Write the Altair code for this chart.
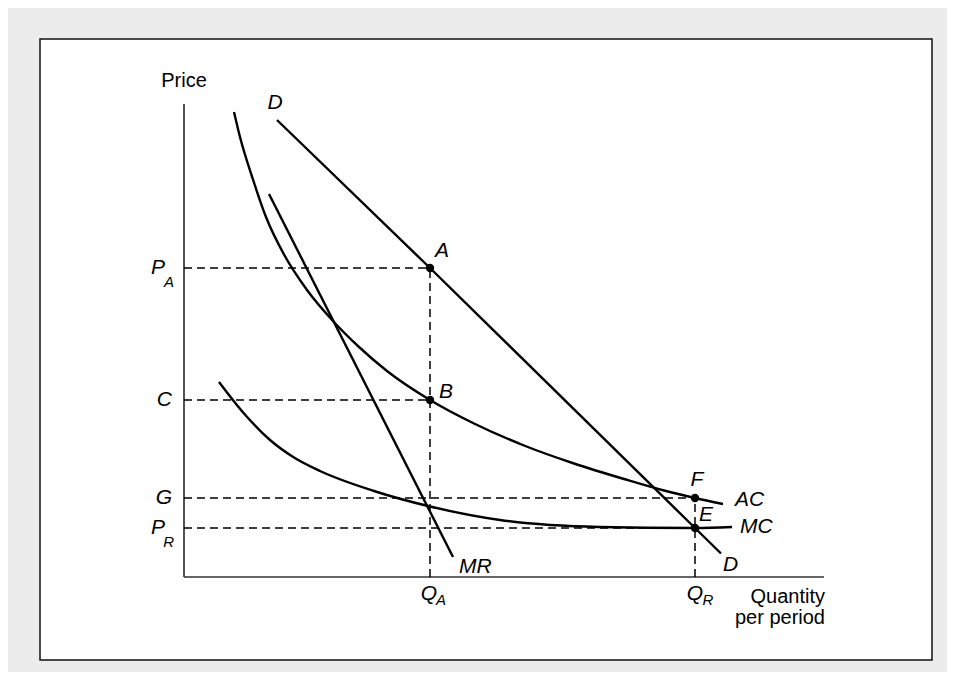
import altair as alt
import pandas as pd

# Key quantities and prices
Q_A, Q_R = 4.92, 10.22
P_A, C_P, G_P, P_R = 6.18, 3.54, 1.58, 0.98
Q_MAX, P_MAX = 12.8, 9.46

# Demand curve D
d_q = [1.86, 4.92, 10.22, 10.74]
d_p = [9.14, 6.18, 0.98, 0.47]

# Marginal revenue MR
mr_q = [1.70, 5.38]
mr_p = [7.66, 0.40]

# Average cost AC
ac_q = [1.00, 1.12, 1.38, 1.64, 2.00, 2.46, 2.98, 3.50, 4.06, 4.92, 5.80, 6.80, 7.80, 8.80, 9.60, 10.22, 10.78]
ac_p = [9.30, 8.80, 7.95, 7.20, 6.45, 5.74, 5.12, 4.60, 4.12, 3.54, 3.07, 2.63, 2.27, 1.96, 1.73, 1.58, 1.46]

# Marginal cost MC
mc_q = [0.70, 1.20, 1.72, 2.20, 2.72, 3.80, 4.88, 6.32, 8.30, 10.22, 10.96]
mc_p = [3.90, 3.27, 2.74, 2.39, 2.12, 1.72, 1.42, 1.14, 1.00, 0.98, 1.00]

X_DOMAIN = [-2.88, 14.96]
Y_DOMAIN = [-1.66, 10.76]

FONT = "Liberation Sans"
xs = alt.Scale(domain=X_DOMAIN, nice=False, zero=False)
ys = alt.Scale(domain=Y_DOMAIN, nice=False, zero=False)


def XE(f):
    return alt.X(f"{f}:Q", scale=xs, axis=None)


def YE(f):
    return alt.Y(f"{f}:Q", scale=ys, axis=None)


def curve(q, p, interp):
    df = pd.DataFrame({"q": q, "p": p})
    return alt.Chart(df).mark_line(
        color="#000", strokeWidth=2.4, interpolate=interp, strokeCap="butt"
    ).encode(x=XE("q"), y=YE("p"))


layers = []

# axes
axes_df = pd.DataFrame({
    "q1": [0, 0], "p1": [0, 0], "q2": [0, Q_MAX], "p2": [P_MAX, 0]
})
layers.append(alt.Chart(axes_df).mark_rule(color="#333", strokeWidth=1.7).encode(
    x=XE("q1"), y=YE("p1"), x2="q2:Q", y2="p2:Q"))

# dashed guides
guides_df = pd.DataFrame({
    "q1": [0, 0, 0, 0, Q_A, Q_R],
    "p1": [P_A, C_P, G_P, P_R, 0, 0],
    "q2": [Q_A, Q_A, Q_R, Q_R, Q_A, Q_R],
    "p2": [P_A, C_P, G_P, P_R, P_A, G_P],
})
layers.append(alt.Chart(guides_df).mark_rule(
    color="#000", strokeWidth=1.5, strokeDash=[8, 5]).encode(
    x=XE("q1"), y=YE("p1"), x2="q2:Q", y2="p2:Q"))

layers.append(curve(d_q, d_p, "linear"))
layers.append(curve(mr_q, mr_p, "linear"))
layers.append(curve(ac_q, ac_p, "monotone"))
layers.append(curve(mc_q, mc_p, "monotone"))

# points
pts_df = pd.DataFrame({"q": [Q_A, Q_A, Q_R, Q_R], "p": [P_A, C_P, G_P, P_R]})
layers.append(alt.Chart(pts_df).mark_circle(color="#000", size=70, opacity=1).encode(
    x=XE("q"), y=YE("p")))

# labels: text, q, p, dx, dy, align, size, style
labels = [
    ("Price", 0, P_MAX, 0, -23, "center", 20, "normal"),
    ("D", d_q[0], d_p[0], -2, -17, "center", 21, "italic"),
    ("D", d_q[-1], d_p[-1], 2, 11, "left", 21, "italic"),
    ("A", Q_A, P_A, 12, -17, "center", 21, "italic"),
    ("B", Q_A, C_P, 16, -8, "center", 21, "italic"),
    ("F", Q_R, G_P, 2, -18, "center", 21, "italic"),
    ("E", Q_R, P_R, 11, -13, "center", 21, "italic"),
    ("AC", ac_q[-1], ac_p[-1], 12, -4, "left", 21, "italic"),
    ("MC", mc_q[-1], mc_p[-1], 8, 0, "left", 21, "italic"),
    ("MR", mr_q[-1], mr_p[-1], 6, 10, "left", 21, "italic"),
    ("C", 0, C_P, -12, 0, "right", 21, "italic"),
    ("G", 0, G_P, -12, 0, "right", 21, "italic"),
    ("P", 0, P_A, -19, 0, "right", 21, "italic"),
    ("A", 0, P_A, -10, 14, "right", 15, "italic"),
    ("P", 0, P_R, -19, 0, "right", 21, "italic"),
    ("R", 0, P_R, -10, 14, "right", 15, "italic"),
    ("Q", Q_A, 0, -1, 17, "center", 21, "italic"),
    ("A", Q_A, 0, 11, 23, "center", 15, "italic"),
    ("Q", Q_R, 0, 0, 17, "center", 21, "italic"),
    ("R", Q_R, 0, 13, 23, "center", 15, "italic"),
    ("Quantity", Q_MAX, 0, 1, 20, "right", 20, "normal"),
    ("per period", Q_MAX, 0, 1, 41, "right", 20, "normal"),
]
for t, q, p, dx, dy, al, sz, st in labels:
    df = pd.DataFrame({"t": [t], "q": [q], "p": [p]})
    layers.append(alt.Chart(df).mark_text(
        dx=dx, dy=dy, align=al, baseline="middle", fontSize=sz,
        fontStyle=st, font=FONT, color="#000").encode(
        x=XE("q"), y=YE("p"), text="t:N"))

chart = alt.layer(*layers).properties(
    width=892, height=621, background="#ececec",
    padding={"left": 32, "top": 31, "right": 15, "bottom": 12},
    autosize=alt.AutoSizeParams(type="none"),
).configure_view(fill="white", stroke="#111", strokeWidth=1.5)

chart.save("out.html", embed_options={"renderer": "svg", "actions": False})
